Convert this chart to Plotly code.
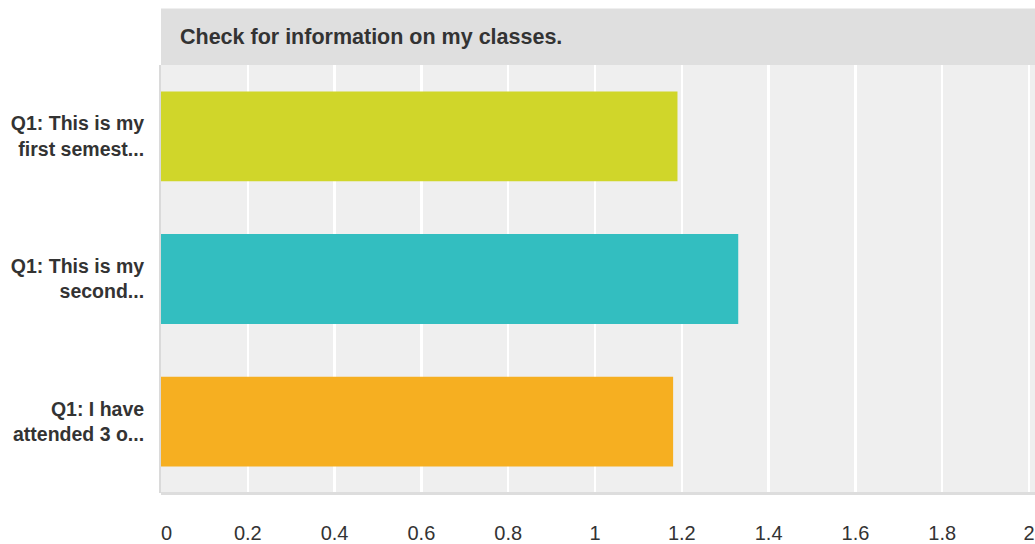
import plotly.graph_objects as go

categories = ["Q1: This is my<br>first semest...", "Q1: This is my<br>second...", "Q1: I have<br>attended 3 o..."]
values = [1.19, 1.33, 1.18]
colors = ["#D0D62A", "#33BEC0", "#F6AF21"]
tick_vals = [0, 0.2, 0.4, 0.6, 0.8, 1, 1.2, 1.4, 1.6, 1.8, 2]
tick_text = ["\u00a0\u00a00", "0.2", "0.4", "0.6", "0.8", "1", "1.2", "1.4", "1.6", "1.8", "2"]
title_text = "Check for information on my classes."

W, H = 1035, 544
ml, mr, mt, mb = 161, 0, 65, 47
header_h = 57
plot_h = H - mt - mb
plot_w = W - ml - mr

fig = go.Figure(go.Bar(
    x=values, y=categories, orientation="h",
    marker=dict(color=colors, line=dict(width=0)),
    width=0.63, hoverinfo="x+y",
))

fig.update_layout(
    width=W, height=H,
    margin=dict(l=ml, r=mr, t=mt, b=mb, pad=0),
    paper_bgcolor="white", plot_bgcolor="#EFEFEF",
    font=dict(family="Liberation Sans, Arial, sans-serif", color="#333333", size=16),
    showlegend=False, bargap=0.37,
    xaxis=dict(
        range=[0, 2.0138], tickvals=tick_vals, ticktext=tick_text,
        showgrid=True, gridcolor="#FFFFFF", gridwidth=2.5,
        zeroline=False, showline=False,
        ticks="outside", ticklen=22, tickcolor="rgba(0,0,0,0)",
        tickfont=dict(size=20, color="#333333"), fixedrange=True,
    ),
    yaxis=dict(
        autorange="reversed", showgrid=False, zeroline=False,
        showline=True, linecolor="#DADADA", linewidth=2,
        ticks="outside", ticklen=11, tickcolor="rgba(0,0,0,0)",
        tickfont=dict(size=19.5, color="#333333", weight="bold"), fixedrange=True,
    ),
    shapes=[
        dict(type="rect", xref="paper", yref="paper", x0=0, x1=1,
             y0=1, y1=1 + header_h / plot_h, fillcolor="#DFDFDF", line=dict(width=0), layer="below"),
        dict(type="line", xref="paper", yref="paper", x0=0, x1=1,
             y0=-0.5 / plot_h, y1=-0.5 / plot_h, line=dict(color="#DDDDDD", width=3)),
    ],
    annotations=[
        dict(text=title_text, xref="paper", yref="paper",
             x=17 / plot_w, y=1 + (header_h / 2) / plot_h, xanchor="left", yanchor="middle",
             showarrow=False, font=dict(size=21.5, color="#333333", weight="bold")),
    ],
)

fig.write_html(
    "out.html",
    config={"displayModeBar": False, "staticPlot": True},
    post_script="document.body.style.margin='0';document.body.style.overflow='hidden';",
)
